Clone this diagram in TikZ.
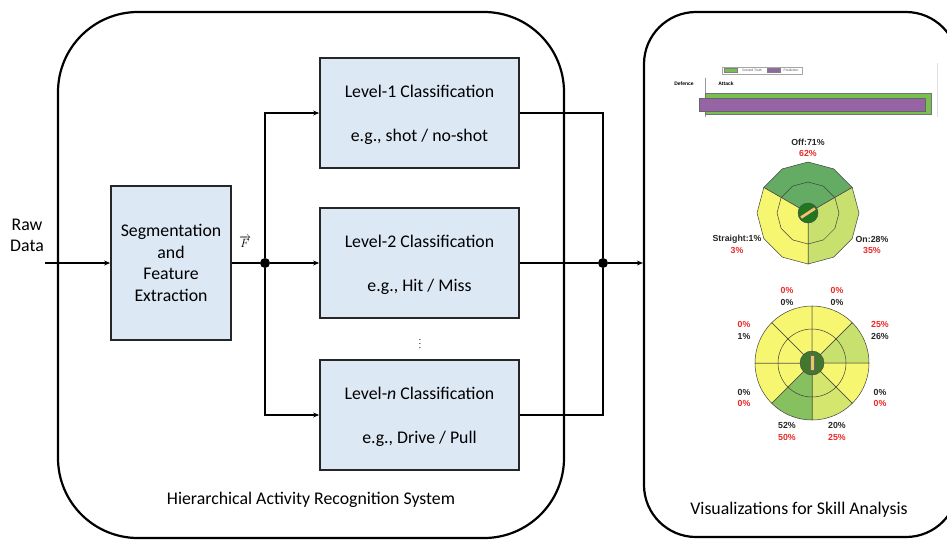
\documentclass[tikz,border=0pt]{standalone}
\usepackage{fontspec}
\setmainfont{Carlito}
\newfontfamily\chartfont{Liberation Sans}
\usetikzlibrary{arrows.meta}
\definecolor{boxblue}{RGB}{221,232,245}
\definecolor{yel}{RGB}{246,246,112}
\definecolor{offg}{RGB}{100,172,100}
\definecolor{ong}{RGB}{200,225,110}
\definecolor{llg}{RGB}{135,192,95}
\definecolor{lrg}{RGB}{212,230,110}
\definecolor{dkg}{RGB}{30,120,30}
\definecolor{dkg2}{RGB}{65,120,45}
\definecolor{batc}{RGB}{232,200,100}
\definecolor{redt}{RGB}{235,40,40}
\definecolor{gtg}{RGB}{120,190,80}
\definecolor{prp}{RGB}{150,100,165}
\begin{document}
\begin{tikzpicture}[x=1pt,y=-1pt,
  font=\fontsize{17.8}{21}\selectfont,
  blk/.style={draw=black!85, line width=1.8pt, fill=boxblue, inner sep=0pt, minimum width=199pt, minimum height=110pt},
  wire/.style={line width=1.4pt},
  arr/.style={wire, -{Stealth[length=6pt,width=5pt]}},
  dot/.style={circle, fill=black, inner sep=0pt, minimum size=10pt},
  panel/.style={draw, line width=2.2pt, inner sep=0pt},
  txt/.style={inner sep=0pt, anchor=base},
  cl/.style={font=\chartfont\bfseries\fontsize{8.8}{10}\selectfont, inner sep=0pt, text=black!85},
  cr/.style={cl, text=redt},
  sec/.style={draw=black!75, line width=0.5pt}
  ]
\useasboundingbox (0,0) rectangle (947,539);
\begin{scope}
\clip (0,0) rectangle (947,539);
\node[panel, rounded corners=80pt, minimum width=506pt, minimum height=526pt] (sys) at (311,275) {};
\node[panel, rounded corners=52pt, minimum width=314pt, minimum height=525pt] (viz) at (801,274.5) {};
\end{scope}

% left part
\node[align=center, font=\fontsize{17.8}{21}\selectfont, inner sep=0pt] (raw) at (27,235) {Raw\\Data};
\node[blk, minimum width=120pt, minimum height=154pt, align=center, font=\fontsize{17.8}{21.7}\selectfont] (seg) at (171,263) {Segmentation\\and\\Feature\\Extraction};
\coordinate (rawin) at (45,263);
\draw[arr] (rawin) -- (seg.west);
\node[dot] (j1) at (265,263) {};
\draw[wire] (seg.east) -- (j1);
\node[font=\fontsize{12}{13}\selectfont, inner sep=0pt] (F) at (245,242) {$\overrightarrow{F}$};

\node[blk] (l1) at (419.5,113) {};
\node[blk] (l2) at (419.5,263) {};
\node[blk] (ln) at (419.5,415) {};
\node[txt] (l1a) at ([yshift=15.5pt]l1.center) {Level-1 Classification};
\node[txt] (l1b) at ([yshift=-28pt]l1.center) {e.g., shot / no-shot};
\node[txt] (l2a) at ([yshift=15.5pt]l2.center) {Level-2 Classification};
\node[txt] (l2b) at ([yshift=-28pt]l2.center) {e.g., Hit / Miss};
\node[txt] (lna) at ([yshift=15.5pt]ln.center) {Level-\emph{n} Classification};
\node[txt] (lnb) at ([yshift=-28pt]ln.center) {e.g., Drive / Pull};
\node[font=\fontsize{9}{10}\selectfont, inner sep=0pt] (vd) at (420,341) {$\vdots$};

\draw[arr] (j1) |- (l1.west);
\draw[arr] (j1) -- (l2.west);
\draw[arr] (j1) |- (ln.west);

\node[dot] (j2) at (603,263) {};
\draw[wire] (l1.east) -| (j2);
\draw[wire] (l2.east) -- (j2);
\draw[wire] (ln.east) -| (j2);
\draw[arr] (j2) -- (j2 -| viz.west);

\node (sysl) at (311,500) {Hierarchical Activity Recognition System};
\node (vizl) at (799,510) {Visualizations for Skill Analysis};

% bar chart
\draw[black!35, line width=0.5pt] (722,67) rectangle (802,74);
\filldraw[fill=gtg, draw=black!50, line width=0.3pt] (724,68.5) rectangle (737,72.5);
\node[inner sep=0pt, font=\chartfont\fontsize{3.3}{4}\selectfont, text=black!70] (gtl) at (752,70.5) {Ground Truth};
\filldraw[fill=prp, draw=black!50, line width=0.3pt] (767,68.5) rectangle (780,72.5);
\node[inner sep=0pt, font=\chartfont\fontsize{3.3}{4}\selectfont, text=black!70] (prl) at (791,70.5) {Prediction};
\node[inner sep=0pt, font=\chartfont\bfseries\fontsize{5}{6}\selectfont] (def) at (684,84) {Defence};
\node[inner sep=0pt, font=\chartfont\bfseries\fontsize{5}{6}\selectfont] (att) at (726,84) {Attack};
\draw[black!40, line width=0.6pt] (705,78) -- (705,117);
\draw[black!12, line width=0.6pt] (937,63) -- (937,117);
\filldraw[fill=gtg, draw=black!55, line width=0.6pt] (705,93) rectangle (931,114);
\filldraw[fill=prp, draw=black!60, line width=0.6pt] (699,98) rectangle (925,111);

% polar chart 1
\begin{scope}[shift={(808,213)}, yscale=-1]
 \filldraw[sec, fill=offg] (0,0) -- (30:51) -- (60:51) -- (90:51) -- (120:51) -- (150:51) -- cycle;
 \filldraw[sec, fill=ong] (0,0) -- (-90:51) -- (-60:51) -- (-30:51) -- (0:51) -- (30:51) -- cycle;
 \filldraw[sec, fill=yel] (0,0) -- (150:51) -- (180:51) -- (210:51) -- (240:51) -- (270:51) -- cycle;
 \draw[sec] (0:31) \foreach \a in {30,60,...,330} { -- (\a:31) } -- cycle;
 \filldraw[fill=dkg, draw=black!70, line width=0.5pt] (0,0) circle (10);
 \draw[line width=4pt, black!70] (213:8.5) -- (33:8.5);
 \draw[line width=2.8pt, batc] (213:8.3) -- (33:8.3);
\end{scope}
\node[cl] (off1) at (808,142) {Off:71\%};
\node[cr] (off2) at (808,153) {62\%};
\node[cl] (str1) at (737,239) {Straight:1\%};
\node[cr] (str2) at (737,250) {3\%};
\node[cl] (on1) at (872,239) {On:28\%};
\node[cr] (on2) at (872,250) {35\%};

% polar chart 2
\begin{scope}[shift={(812,363)}, yscale=-1]
 \filldraw[sec, fill=yel] (0,0) -- (90:57) arc (90:135:57) -- cycle;
 \filldraw[sec, fill=yel] (0,0) -- (45:57) arc (45:90:57) -- cycle;
 \filldraw[sec, fill=ong] (0,0) -- (0:57) arc (0:45:57) -- cycle;
 \filldraw[sec, fill=yel] (0,0) -- (-45:57) arc (-45:0:57) -- cycle;
 \filldraw[sec, fill=lrg] (0,0) -- (-90:57) arc (-90:-45:57) -- cycle;
 \filldraw[sec, fill=llg] (0,0) -- (-135:57) arc (-135:-90:57) -- cycle;
 \filldraw[sec, fill=yel] (0,0) -- (180:57) arc (180:225:57) -- cycle;
 \filldraw[sec, fill=yel] (0,0) -- (135:57) arc (135:180:57) -- cycle;
 \draw[sec] (0,0) circle (34);
 \filldraw[fill=dkg2, draw=black!70, line width=0.5pt] (0,0) circle (12);
 \filldraw[fill=batc, draw=black!60, line width=0.4pt] (-2.2,-7.5) rectangle (2.2,7.5);
\end{scope}
\node[cr] (p1a) at (787,290) {0\%};
\node[cl] (p1b) at (787,302) {0\%};
\node[cr] (p2a) at (837,290) {0\%};
\node[cl] (p2b) at (837,302) {0\%};
\node[cr] (p3a) at (880,324) {25\%};
\node[cl] (p3b) at (880,336) {26\%};
\node[cr] (p4a) at (744,324) {0\%};
\node[cl] (p4b) at (744,336) {1\%};
\node[cl] (p5a) at (744,392) {0\%};
\node[cr] (p5b) at (744,403) {0\%};
\node[cl] (p6a) at (880,392) {0\%};
\node[cr] (p6b) at (880,403) {0\%};
\node[cl] (p7a) at (787,425) {52\%};
\node[cr] (p7b) at (787,437) {50\%};
\node[cl] (p8a) at (837,425) {20\%};
\node[cr] (p8b) at (837,437) {25\%};
\end{tikzpicture}
\end{document}
